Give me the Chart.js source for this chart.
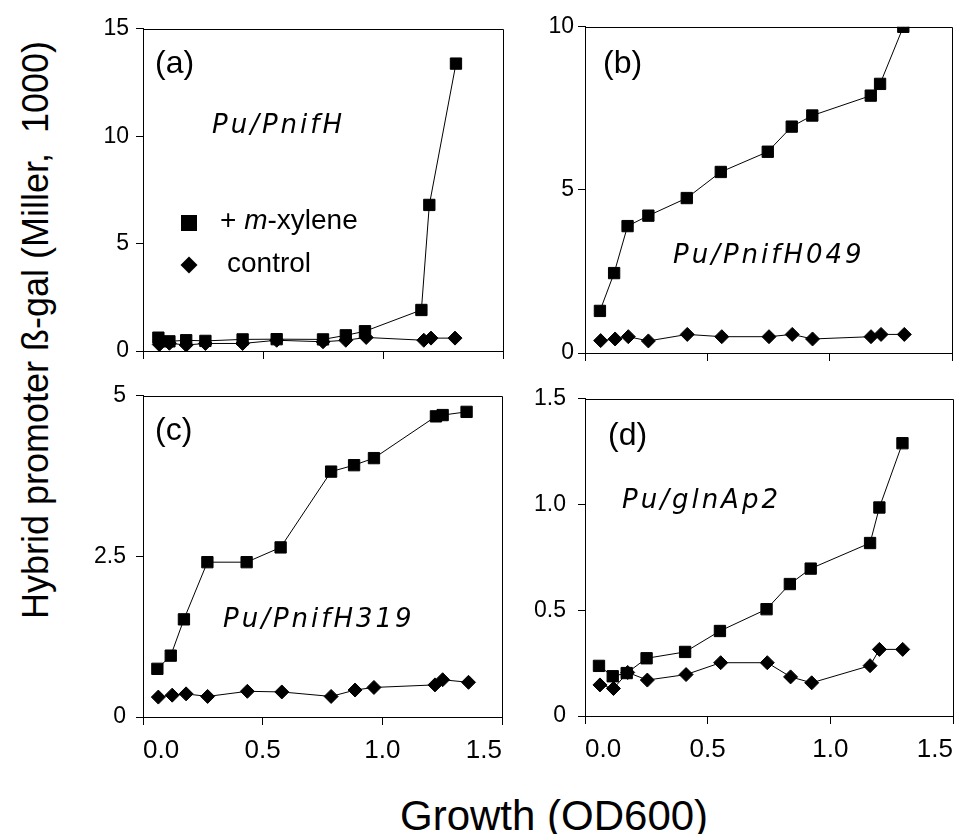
<!DOCTYPE html>
<html>
<head>
<meta charset="utf-8">
<script src="https://cdn.jsdelivr.net/npm/chart.js@4.4.1/dist/chart.umd.min.js"></script>
<style>
  body { margin: 0; background: #fff; }
  #figure { position: relative; width: 957px; height: 834px; overflow: hidden; font-family: 'Liberation Sans', Arial, sans-serif; color: #000; }
  #figure canvas { position: absolute; }
  .txt { position: absolute; line-height: 1; white-space: nowrap; }
  .tag { font-size: 32px; }
  .strain { font-family: 'DejaVu Sans', sans-serif; font-style: italic; font-size: 26px; letter-spacing: 3px; }
  .legend-text { font-size: 28px; }
  .mark-sq { position: absolute; width: 16px; height: 16px; background: #000; }
  .mark-dm { position: absolute; width: 12px; height: 12px; background: #000; transform: rotate(45deg); }
  #ytitle { font-size: 36px; transform: translate(-50%, -50%) rotate(-90deg); left: 36px; top: 330px; }
  #xtitle { font-size: 42px; left: 400px; top: 795px; }
</style>
</head>
<body>
<div id="figure">
  <canvas id="chartA"></canvas>
  <canvas id="chartB"></canvas>
  <canvas id="chartC"></canvas>
  <canvas id="chartD"></canvas>

  <div class="txt tag" style="left:155px; top:46px;">(a)</div>
  <div class="txt tag" style="left:603px; top:46px;">(b)</div>
  <div class="txt tag" style="left:155px; top:413px;">(c)</div>
  <div class="txt tag" style="left:608px; top:418px;">(d)</div>

  <div class="txt strain" style="left:212px; top:111px;">Pu/PnifH</div>
  <div class="txt strain" style="left:673px; top:241px;">Pu/PnifH049</div>
  <div class="txt strain" style="left:223px; top:605px;">Pu/PnifH319</div>
  <div class="txt strain" style="left:622px; top:486px;">Pu/glnAp2</div>

  <div class="mark-sq" style="left:181px; top:215px;"></div>
  <div class="txt legend-text" style="left:220px; top:206px;">+ <i>m</i>-xylene</div>
  <div class="mark-dm" style="left:183px; top:259px;"></div>
  <div class="txt legend-text" style="left:227px; top:249px;">control</div>

  <div id="ytitle" class="txt">Hybrid promoter ß-gal (Miller,&nbsp; 1000)</div>
  <div id="xtitle" class="txt">Growth (OD600)</div>
</div>

<script>
// growth (OD600) and beta-gal (Miller x 1000)
const odA_xylene = [0.064, 0.11, 0.18, 0.26, 0.415, 0.557, 0.75, 0.845, 0.925, 1.16, 1.193, 1.304];
const galA_xylene = [0.62, 0.45, 0.5, 0.47, 0.54, 0.55, 0.54, 0.73, 0.92, 1.91, 6.8, 13.38];
const odA_control = [0.068, 0.11, 0.18, 0.26, 0.415, 0.557, 0.75, 0.845, 0.93, 1.17, 1.2, 1.3];
const galA_control = [0.3, 0.36, 0.28, 0.35, 0.35, 0.5, 0.43, 0.5, 0.63, 0.5, 0.6, 0.6];

const odB_xylene = [0.061, 0.119, 0.174, 0.259, 0.416, 0.555, 0.747, 0.845, 0.929, 1.168, 1.206, 1.301];
const galB_xylene = [1.29, 2.45, 3.89, 4.21, 4.75, 5.55, 6.17, 6.94, 7.28, 7.89, 8.25, 10.0];
const odB_control = [0.064, 0.123, 0.177, 0.259, 0.418, 0.559, 0.752, 0.847, 0.93, 1.169, 1.21, 1.305];
const galB_control = [0.38, 0.43, 0.5, 0.37, 0.57, 0.5, 0.5, 0.57, 0.43, 0.5, 0.57, 0.57];

const odC_xylene = [0.06, 0.116, 0.171, 0.269, 0.433, 0.575, 0.786, 0.882, 0.965, 1.224, 1.252, 1.352];
const galC_xylene = [0.75, 0.955, 1.52, 2.41, 2.41, 2.64, 3.82, 3.92, 4.03, 4.68, 4.7, 4.75];
const odC_control = [0.064, 0.122, 0.18, 0.27, 0.436, 0.58, 0.786, 0.886, 0.965, 1.22, 1.252, 1.36];
const galC_control = [0.31, 0.34, 0.36, 0.32, 0.4, 0.39, 0.32, 0.42, 0.46, 0.5, 0.58, 0.54];

const odD_xylene = [0.057, 0.113, 0.17, 0.251, 0.408, 0.55, 0.74, 0.835, 0.92, 1.162, 1.2, 1.294];
const galD_xylene = [0.237, 0.188, 0.203, 0.273, 0.303, 0.402, 0.505, 0.624, 0.697, 0.818, 0.986, 1.29];
const odD_control = [0.061, 0.116, 0.174, 0.254, 0.412, 0.553, 0.743, 0.838, 0.924, 1.162, 1.2, 1.295];
const galD_control = [0.147, 0.13, 0.206, 0.17, 0.196, 0.252, 0.252, 0.185, 0.157, 0.238, 0.315, 0.315];

const xTicks = [0, 0.5, 1.0, 1.5];
const yTicksA = [0, 5, 10, 15];
const yTicksB = [0, 5, 10];
const yTicksC = [0, 2.5, 5];
const yTicksD = [0, 0.5, 1.0, 1.5];

// space around the plot box inside each canvas
const AXIS_W = 60;
const AXIS_H = 60;
const PAD_TOP = 16;
const PAD_RIGHT = 24;

const frameBox = {
  id: 'frameBox',
  afterDraw(chart) {
    const { ctx, chartArea: a } = chart;
    ctx.save();
    ctx.strokeStyle = '#000';
    ctx.lineWidth = 1;
    ctx.beginPath();
    ctx.moveTo(Math.round(a.left) + 0.5, Math.round(a.top) + 0.5);
    ctx.lineTo(Math.round(a.right) + 0.5, Math.round(a.top) + 0.5);
    ctx.lineTo(Math.round(a.right) + 0.5, Math.round(a.bottom) + 0.5);
    ctx.stroke();
    ctx.restore();
  }
};

function toPoints(xs, ys) {
  return xs.map((x, i) => ({ x, y: ys[i] }));
}

function series(xs, ys, style, radius) {
  return {
    data: toPoints(xs, ys),
    showLine: true,
    borderColor: '#000',
    borderWidth: 1,
    pointStyle: style,
    pointRadius: radius,
    pointBackgroundColor: '#000',
    pointBorderColor: '#000',
    pointBorderWidth: 1
  };
}

function formatY(v, decimals) {
  if (v === 0) return '0';
  return decimals ? v.toFixed(decimals) : String(v);
}

function createPanel(canvasId, box, p) {
  const canvas = document.getElementById(canvasId);
  const w = (box.right - box.left) + AXIS_W + PAD_RIGHT;
  const h = (box.bottom - box.top) + PAD_TOP + AXIS_H;
  canvas.width = w;
  canvas.height = h;
  canvas.style.width = w + 'px';
  canvas.style.height = h + 'px';
  canvas.style.left = (box.left - AXIS_W) + 'px';
  canvas.style.top = (box.top - PAD_TOP) + 'px';

  return new Chart(canvas, {
    type: 'scatter',
    data: {
      datasets: [
        series(p.ctlX, p.ctlY, 'rectRot', 7),
        series(p.xylX, p.xylY, 'rect', 8)
      ]
    },
    options: {
      responsive: false,
      animation: false,
      events: [],
      layout: { padding: { top: PAD_TOP, right: PAD_RIGHT, left: 0, bottom: 0 } },
      plugins: { legend: { display: false }, tooltip: { enabled: false } },
      scales: {
        x: {
          type: 'linear',
          min: xTicks[0],
          max: xTicks[xTicks.length - 1],
          afterBuildTicks: s => { s.ticks = xTicks.map(v => ({ value: v })); },
          border: { display: true, color: '#000', width: 1 },
          grid: { display: true, drawOnChartArea: false, color: '#000', tickLength: 8 },
          ticks: {
            display: p.showX,
            color: '#000',
            font: { family: 'Liberation Sans', size: 26 },
            padding: 10,
            align: 'inner',
            maxRotation: 0,
            autoSkip: false,
            callback: v => Number(v).toFixed(1)
          },
          afterFit: s => { s.height = AXIS_H; }
        },
        y: {
          type: 'linear',
          min: p.yTicks[0],
          max: p.yTicks[p.yTicks.length - 1],
          afterBuildTicks: s => { s.ticks = p.yTicks.map(v => ({ value: v })); },
          border: { display: true, color: '#000', width: 1 },
          grid: { display: true, drawOnChartArea: false, color: '#000', tickLength: 7 },
          ticks: {
            color: '#000',
            font: { family: 'Liberation Sans', size: 23 },
            padding: p.yPad,
            autoSkip: false,
            callback: v => formatY(Number(v), p.yDecimals)
          },
          afterFit: s => { s.width = AXIS_W; }
        }
      }
    },
    plugins: [frameBox]
  });
}

createPanel('chartA', { left: 143, right: 503, top: 24, bottom: 351 }, {
  xylX: odA_xylene, xylY: galA_xylene, ctlX: odA_control, ctlY: galA_control,
  yTicks: yTicksA, yDecimals: 0, yPad: 7, showX: false
});

createPanel('chartB', { left: 585, right: 952, top: 25, bottom: 353 }, {
  xylX: odB_xylene, xylY: galB_xylene, ctlX: odB_control, ctlY: galB_control,
  yTicks: yTicksB, yDecimals: 0, yPad: 4, showX: false
});

createPanel('chartC', { left: 143, right: 502, top: 388, bottom: 717 }, {
  xylX: odC_xylene, xylY: galC_xylene, ctlX: odC_control, ctlY: galC_control,
  yTicks: yTicksC, yDecimals: 0, yPad: 10, showX: true
});

createPanel('chartD', { left: 585, right: 953, top: 389, bottom: 716 }, {
  xylX: odD_xylene, xylY: galD_xylene, ctlX: odD_control, ctlY: galD_control,
  yTicks: yTicksD, yDecimals: 1, yPad: 12, showX: true
});
</script>
</body>
</html>
